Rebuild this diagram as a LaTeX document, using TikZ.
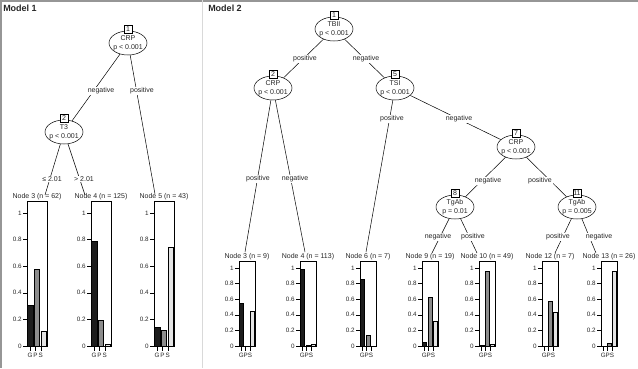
\documentclass[tikz,border=0pt]{standalone}
\usepackage{fontspec}
\setmainfont{Liberation Sans}
\usetikzlibrary{shapes.geometric}
\definecolor{BarG}{RGB}{28,28,28}
\definecolor{BarP}{RGB}{140,140,140}
\definecolor{BarS}{RGB}{228,228,228}
\definecolor{PanelLine}{RGB}{150,150,150}

% terminal panel: name, frame left x, frame width, unit height, header, G, P, S
\newcommand{\termplot}[8]{%
  \begin{scope}[shift={(#2,346)}]
    \foreach \bv/\bc [count=\bi] in {#6/BarG,#7/BarP,#8/BarS}
      \filldraw[fill=\bc] ({(\bi-0.5)*#3/3-0.13*#3},0) rectangle ++({0.26*#3},{-\bv*#4});
    \draw (0,0) rectangle (#3,{-1.09*#4});
    \foreach \t in {0,0.2,0.4,0.6,0.8,1}
      \draw (0,{-\t*#4}) -- ++(-4,0) node[axlab, left] {\t};
    \foreach \f/\l in {0.15/G,0.42/P,0.69/S}
      \draw ({\f*#3},0) -- ++(0,5) node[axlab, below, inner sep=2.2pt] {\l};
    \node[hdrtext, above] (#1) at ({#3/2},{-1.09*#4}) {#5};
  \end{scope}}

\begin{document}
\begin{tikzpicture}[
  x=1pt, y=-1pt,
  font=\fontsize{7}{9}\selectfont,
  line width=0.5pt,
  text=black!85,
  splitnode/.style={draw, ellipse, minimum width=38pt, minimum height=24pt, inner xsep=-5pt, inner ysep=0pt, align=center},
  idbox/.style={draw, fill=white, inner sep=0.6pt, minimum width=8.5pt, minimum height=7.5pt, yshift=1.5pt},
  edgelab/.style={fill=white, inner sep=0.8pt},
  hdrtext/.style={inner sep=0.6pt},
  axlab/.style={font=\fontsize{6.3}{7}\selectfont, inner sep=1.2pt},
  titletext/.style={font=\fontsize{9}{10}\selectfont\bfseries, anchor=west, inner sep=0pt}
]
\useasboundingbox (0,0) rectangle (638,368);

% panels
\draw[PanelLine, line width=1.5pt] (0,0.75) -- (638,0.75);
\draw[PanelLine, line width=1.5pt] (0.75,0) -- (0.75,368);
\draw[gray!30, line width=1pt] (202,0) -- (202,368);
\node[titletext] (title1) at (3,8) {Model 1};
\node[titletext] (title2) at (208,8) {Model 2};

% Model 1
\node[splitnode] (m1n1) at (128,43) {CRP\\p < 0.001};
\node[splitnode] (m1n2) at (64,132) {T3\\p < 0.001};
\coordinate (m1e3) at (45,195);
\coordinate (m1e4) at (85,195);
\coordinate (m1e5) at (155,194);

\termplot{m1t3}{27}{20}{133}{Node 3 (n = 62)}{0.31}{0.58}{0.11}
\termplot{m1t4}{91}{20}{133}{Node 4 (n = 125)}{0.79}{0.19}{0.01}
\termplot{m1t5}{154}{20}{133}{Node 5 (n = 43)}{0.14}{0.12}{0.74}

\draw (m1n1) -- (m1n2);
\draw (m1n1) -- (m1e5);
\draw (m1n2) -- (m1e3);
\draw (m1n2) -- (m1e4);

\node[edgelab] (m1l2) at (101,91) {negative};
\node[edgelab] (m1l5) at (142,91) {positive};
\node[edgelab] (m1l3) at (52,179) {≤ 2.01};
\node[edgelab] (m1l4) at (84,179) {> 2.01};

\node[idbox] (m1b1) at (m1n1.north) {1};
\node[idbox] (m1b2) at (m1n2.north) {2};

% Model 2
\node[splitnode] (m2n1) at (334,29) {TBII\\p < 0.001};
\node[splitnode] (m2n2) at (273,88) {CRP\\p < 0.001};
\node[splitnode] (m2n5) at (395,88) {TSI\\p < 0.001};
\node[splitnode] (m2n7) at (516,147) {CRP\\p < 0.001};
\node[splitnode] (m2n8) at (455,207) {TgAb\\p = 0.01};
\node[splitnode] (m2n11) at (577,207) {TgAb\\p = 0.005};
\coordinate (m2e3) at (245,252);
\coordinate (m2e4) at (305,252);
\coordinate (m2e6) at (366,252);
\coordinate (m2e9) at (432,253);
\coordinate (m2e10) at (477,253);
\coordinate (m2e12) at (555,253);
\coordinate (m2e13) at (596,253);

\termplot{m2t3}{239}{16}{78}{Node 3 (n = 9)}{0.55}{0}{0.45}
\termplot{m2t4}{300}{16}{78}{Node 4 (n = 113)}{0.98}{0.005}{0.02}
\termplot{m2t6}{360}{16}{78}{Node 6 (n = 7)}{0.86}{0.14}{0}
\termplot{m2t9}{422}{16}{78}{Node 9 (n = 19)}{0.05}{0.63}{0.32}
\termplot{m2t10}{479}{16}{78}{Node 10 (n = 49)}{0.01}{0.96}{0.02}
\termplot{m2t12}{542}{16}{78}{Node 12 (n = 7)}{0}{0.57}{0.43}
\termplot{m2t13}{601}{16}{78}{Node 13 (n = 26)}{0}{0.04}{0.96}

\draw (m2n1) -- (m2n2);
\draw (m2n1) -- (m2n5);
\draw (m2n2) -- (m2e3);
\draw (m2n2) -- (m2e4);
\draw (m2n5) -- (m2e6);
\draw (m2n5) -- (m2n7);
\draw (m2n7) -- (m2n8);
\draw (m2n7) -- (m2n11);
\draw (m2n8) -- (m2e9);
\draw (m2n8) -- (m2e10);
\draw (m2n11) -- (m2e12);
\draw (m2n11) -- (m2e13);

\node[edgelab] (m2l2) at (305,59) {positive};
\node[edgelab] (m2l5) at (366,59) {negative};
\node[edgelab] (m2l3) at (258,179) {positive};
\node[edgelab] (m2l4) at (295,179) {negative};
\node[edgelab] (m2l6) at (392,119) {positive};
\node[edgelab] (m2l7) at (459,119) {negative};
\node[edgelab] (m2l8) at (488,181) {negative};
\node[edgelab] (m2l11) at (540,181) {positive};
\node[edgelab] (m2l9) at (438,237) {negative};
\node[edgelab] (m2l10) at (473,237) {positive};
\node[edgelab] (m2l12) at (558,237) {positive};
\node[edgelab] (m2l13) at (599,237) {negative};

\node[idbox] (m2b1) at (m2n1.north) {1};
\node[idbox] (m2b2) at (m2n2.north) {2};
\node[idbox] (m2b5) at (m2n5.north) {5};
\node[idbox] (m2b7) at (m2n7.north) {7};
\node[idbox] (m2b8) at (m2n8.north) {8};
\node[idbox] (m2b11) at (m2n11.north) {11};
\end{tikzpicture}
\end{document}
